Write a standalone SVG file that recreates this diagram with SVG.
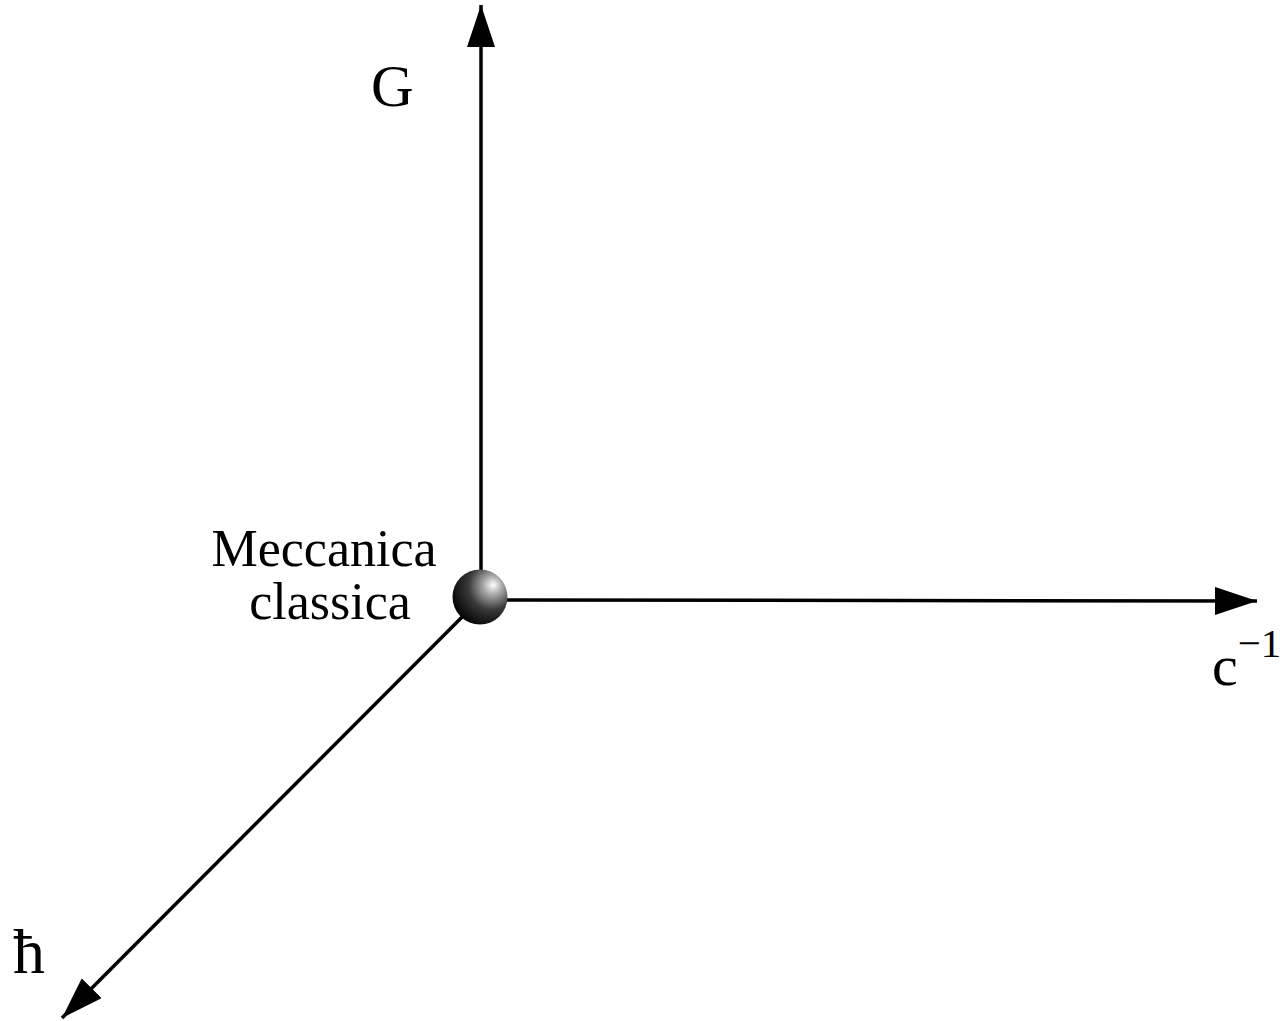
<svg xmlns="http://www.w3.org/2000/svg" width="1282" height="1021" viewBox="0 0 1282 1021">
<style>
.ax{stroke:#000;stroke-width:3.5;fill:none}
.t{font-family:"Liberation Serif","Times New Roman",serif;fill:#000}
</style>
<defs>
<marker id="ah" viewBox="0 0 42 28" refX="42" refY="14" markerWidth="42" markerHeight="28" markerUnits="userSpaceOnUse" orient="auto">
<path d="M0,0 L42,14 L0,28 Z" fill="#000"/>
</marker>
<radialGradient id="sph" cx="0.7" cy="0.32" r="0.78" fx="0.74" fy="0.28">
<stop offset="0" stop-color="#ffffff"/>
<stop offset="0.22" stop-color="#a8a8a8"/>
<stop offset="0.55" stop-color="#3a3a3a"/>
<stop offset="1" stop-color="#000000"/>
</radialGradient>
</defs>
<rect width="1282" height="1021" fill="#fff"/>
<g id="connectors">
<line class="ax" x1="481" y1="598" x2="481" y2="5" marker-end="url(#ah)"/>
<line class="ax" x1="481" y1="600" x2="1257" y2="601" marker-end="url(#ah)"/>
<line class="ax" x1="481" y1="598" x2="62" y2="1018" marker-end="url(#ah)"/>
</g>
<g id="origin">
<circle cx="480" cy="597" r="27.5" fill="url(#sph)"/>
<text class="t" x="324" y="566" font-size="52" text-anchor="middle">Meccanica</text>
<text class="t" x="330" y="619" font-size="52" text-anchor="middle">classica</text>
</g>
<g id="label-G">
<text class="t" x="371" y="106" font-size="59">G</text>
</g>
<g id="label-c">
<text class="t" x="1212" y="685" font-size="58">c<tspan font-size="41" dy="-28" fill="#000">−1</tspan></text>
</g>
<g id="label-hbar">
<text class="t" x="13" y="973" font-size="64">ħ</text>
</g>
</svg>
